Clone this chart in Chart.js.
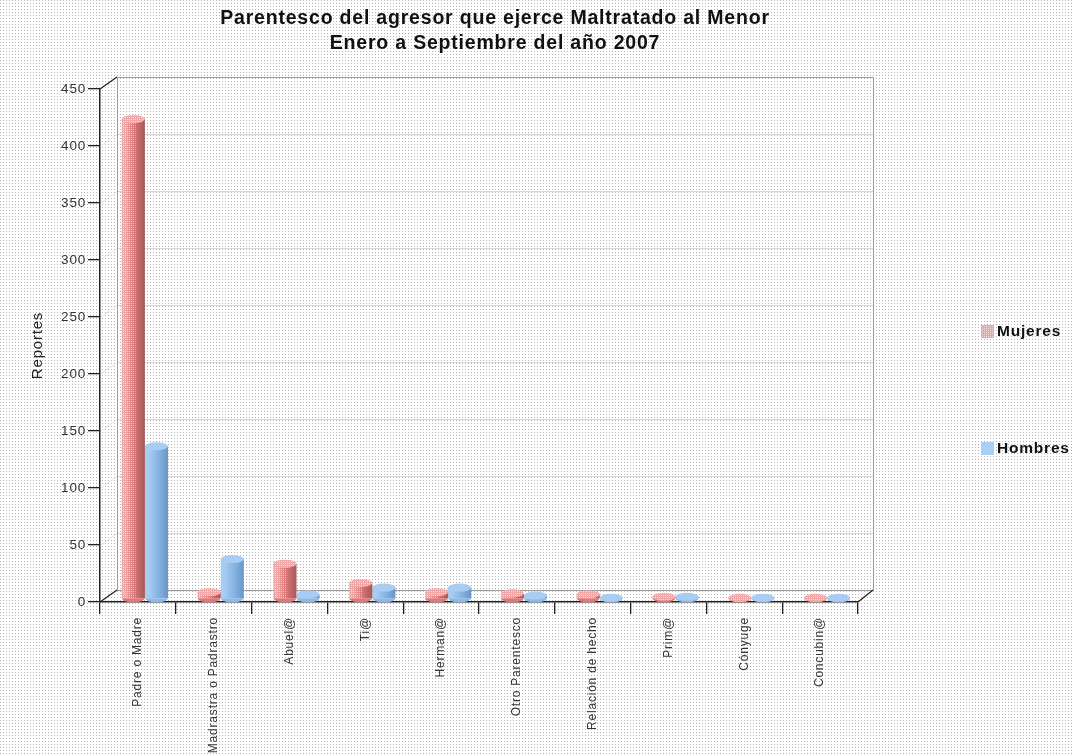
<!DOCTYPE html>
<html>
<head>
<meta charset="utf-8">
<script src="https://cdn.jsdelivr.net/npm/chart.js@4/dist/chart.umd.min.js"></script>
<style>
  html, body { margin: 0; padding: 0; background: #fff; }
  #wrap { width: 1072px; height: 756px; position: relative; }
</style>
</head>
<body>
<div id="wrap"><canvas id="chart" width="1072" height="756"></canvas></div>
<script>
// Data
var categories = ['Padre o Madre', 'Madrastra o Padrastro', 'Abuel@', 'Ti@', 'Herman@',
                  'Otro Parentesco', 'Relación de hecho', 'Prim@', 'Cónyuge', 'Concubin@'];
var mujeres = [421, 6, 31, 14, 6, 5, 4, 2, 1, 1];
var hombres = [134, 35, 4, 10, 10, 3, 1, 2, 1, 1];
var yTicks = [0, 50, 100, 150, 200, 250, 300, 350, 400, 450];
var titleLines = ['Parentesco del agresor que ejerce Maltratado al Menor', 'Enero a Septiembre del año 2007'];

var FONT = '"Liberation Sans", Arial, sans-serif';
var SPACING = '0.8px';

// dotted background pattern
function dotPattern(ctx, bg, dot, size) {
    var c = document.createElement('canvas');
    c.width = size; c.height = size;
    var g = c.getContext('2d');
    if (bg) {
        g.fillStyle = bg;
        g.fillRect(0, 0, size, size);
    }
    g.fillStyle = dot;
    g.fillRect(0, 0, 1, 1);
    return ctx.createPattern(c, 'repeat');
}

// cylinder-like gradient for each bar
function barFill(colors) {
    return function(context) {
        var chart = context.chart;
        var meta = chart.getDatasetMeta(context.datasetIndex);
        var el = meta.data[context.dataIndex];
        if (!el || !el.width) return colors[1];
        var x0 = el.x - el.width / 2, x1 = el.x + el.width / 2;
        var grad = chart.ctx.createLinearGradient(x0, 0, x1, 0);
        grad.addColorStop(0, colors[0]);
        grad.addColorStop(0.15, colors[0]);
        grad.addColorStop(0.5, colors[1]);
        grad.addColorStop(1, colors[2]);
        return grad;
    };
}

var redColors = ['#f2a6a6', '#e07878', '#a45a5a'];
var blueColors = ['#a9cdf2', '#8cb9e8', '#6a96c6'];

var depthPlugin = {
    id: 'depth',
    beforeDraw: function(chart) {
        var ctx = chart.ctx;
        ctx.save();
        ctx.fillStyle = dotPattern(ctx, '#ffffff', '#b4b4b4', 3);
        ctx.fillRect(0, 0, chart.width, chart.height);

        // back wall with gridlines (pseudo 3D)
        var a = chart.chartArea, y = chart.scales.y;
        var dx = 17, dy = -12;
        ctx.lineWidth = 1;
        yTicks.forEach(function(v) {
            if (v === 0 || v === 450) return;
            var py = Math.round(y.getPixelForValue(v) + dy) + 0.5;
            ctx.strokeStyle = '#d8d8d8';
            ctx.beginPath();
            ctx.moveTo(a.left + dx, py);
            ctx.lineTo(a.right + dx - 2, py);
            ctx.stroke();
            ctx.strokeStyle = '#e4e4e4';
            ctx.beginPath();
            ctx.moveTo(a.left, Math.round(y.getPixelForValue(v)) + 0.5);
            ctx.lineTo(a.left + dx, py);
            ctx.stroke();
        });
        ctx.strokeStyle = '#9a9a9a';
        ctx.beginPath();
        ctx.moveTo(a.left + dx + 0.5, a.bottom + dy);
        ctx.lineTo(a.left + dx + 0.5, a.top + dy + 0.5);
        ctx.lineTo(a.right + dx - 2 + 0.5, a.top + dy + 0.5);
        ctx.lineTo(a.right + dx - 2 + 0.5, a.bottom + dy + 0.5);
        ctx.lineTo(a.left + dx, a.bottom + dy + 0.5);
        ctx.stroke();
        // frame diagonals
        ctx.strokeStyle = '#222';
        ctx.lineWidth = 1.3;
        ctx.beginPath();
        ctx.moveTo(a.left, a.top);
        ctx.lineTo(a.left + dx, a.top + dy);
        ctx.moveTo(a.left, a.bottom);
        ctx.lineTo(a.left + dx, a.bottom + dy);
        ctx.moveTo(a.right, a.bottom);
        ctx.lineTo(a.right + dx - 2, a.bottom + dy);
        ctx.stroke();
        ctx.restore();
    },
    beforeDatasetsDraw: function(chart) {
        // bars sit a little inside the 3D box
        chart.ctx.save();
        chart.ctx.translate(7, -3);
    },
    afterDatasetsDraw: function(chart) {
        var ctx = chart.ctx;
        var texture = dotPattern(ctx, null, 'rgba(255,255,255,0.55)', 2);
        [redColors, blueColors].forEach(function(cols, di) {
            var meta = chart.getDatasetMeta(di);
            meta.data.forEach(function(el) {
                var rx = el.width / 2, ry = 4;
                if (di === 0) {
                    ctx.fillStyle = texture;
                    ctx.fillRect(el.x - rx, el.y, el.width * 0.6, el.base - el.y);
                }
                ctx.beginPath();
                ctx.ellipse(el.x, el.base, rx, ry, 0, 0, Math.PI);
                ctx.fillStyle = cols[1];
                ctx.fill();
                ctx.beginPath();
                ctx.ellipse(el.x, el.y, rx, ry, 0, 0, Math.PI * 2);
                ctx.fillStyle = cols[0];
                ctx.fill();
                if (di === 0) {
                    ctx.fillStyle = texture;
                    ctx.fill();
                }
            });
        });
        ctx.restore();
    },
    afterDraw: function(chart) {
        var ctx = chart.ctx;
        ctx.save();
        // title
        ctx.fillStyle = '#111';
        ctx.font = 'bold 19.5px ' + FONT;
        ctx.textAlign = 'center';
        ctx.textBaseline = 'middle';
        ctx.fillText(titleLines[0], 495, 19);
        ctx.fillText(titleLines[1], 495, 44);

        // legend
        var items = [
            { label: chart.data.datasets[0].label, color: '#f2a0a0', y: 331, tex: true },
            { label: chart.data.datasets[1].label, color: '#a8cff6', y: 448, tex: false }
        ];
        ctx.font = 'bold 15.5px ' + FONT;
        ctx.textAlign = 'left';
        items.forEach(function(it) {
            ctx.fillStyle = it.color;
            ctx.fillRect(981, it.y - 6, 13, 13);
            if (it.tex) {
                ctx.fillStyle = dotPattern(ctx, null, 'rgba(255,255,255,0.6)', 2);
                ctx.fillRect(981, it.y - 6, 13, 13);
            }
            ctx.fillStyle = '#111';
            ctx.fillText(it.label, 997, it.y + 1);
        });
        ctx.restore();
    }
};

var canvas = document.getElementById('chart');
canvas.getContext('2d').letterSpacing = SPACING;

var chart = new Chart(canvas, {
    type: 'bar',
    data: {
        labels: categories,
        datasets: [{
            label: 'Mujeres',
            data: mujeres,
            backgroundColor: barFill(redColors),
            borderWidth: 0
        }, {
            label: 'Hombres',
            data: hombres,
            backgroundColor: barFill(blueColors),
            borderWidth: 0
        }]
    },
    options: {
        responsive: false,
        animation: false,
        layout: {
            padding: { top: 89, right: 214, bottom: 0, left: 0 }
        },
        categoryPercentage: 0.61,
        barPercentage: 1.0,
        plugins: {
            legend: { display: false },
            title: { display: false },
            tooltip: { enabled: false }
        },
        scales: {
            x: {
                grid: {
                    offset: true,
                    drawOnChartArea: false,
                    drawTicks: true,
                    tickLength: 12,
                    color: '#222',
                    lineWidth: 1.3
                },
                border: { display: true, color: '#222', width: 1.5 },
                ticks: {
                    color: '#333',
                    font: { family: FONT, size: 12 },
                    maxRotation: 90,
                    minRotation: 90,
                    padding: 3,
                    autoSkip: false
                },
                afterFit: function(scale) { scale.height = 154; }
            },
            y: {
                min: 0,
                max: 450,
                afterBuildTicks: function(scale) {
                    scale.ticks = yTicks.map(function(v) { return { value: v }; });
                },
                grid: {
                    drawOnChartArea: false,
                    drawTicks: true,
                    tickLength: 12,
                    color: '#222',
                    lineWidth: 1.3
                },
                border: { display: true, color: '#222', width: 1.5 },
                ticks: {
                    color: '#333',
                    font: { family: FONT, size: 13.5 },
                    padding: 2
                },
                title: {
                    display: true,
                    text: 'Reportes',
                    color: '#222',
                    font: { family: FONT, size: 15 },
                    padding: { top: 29, bottom: 0 }
                },
                afterFit: function(scale) { scale.width = 100; }
            }
        }
    },
    plugins: [depthPlugin]
});
chart.ctx.letterSpacing = SPACING;
chart.update('none');
</script>
</body>
</html>
